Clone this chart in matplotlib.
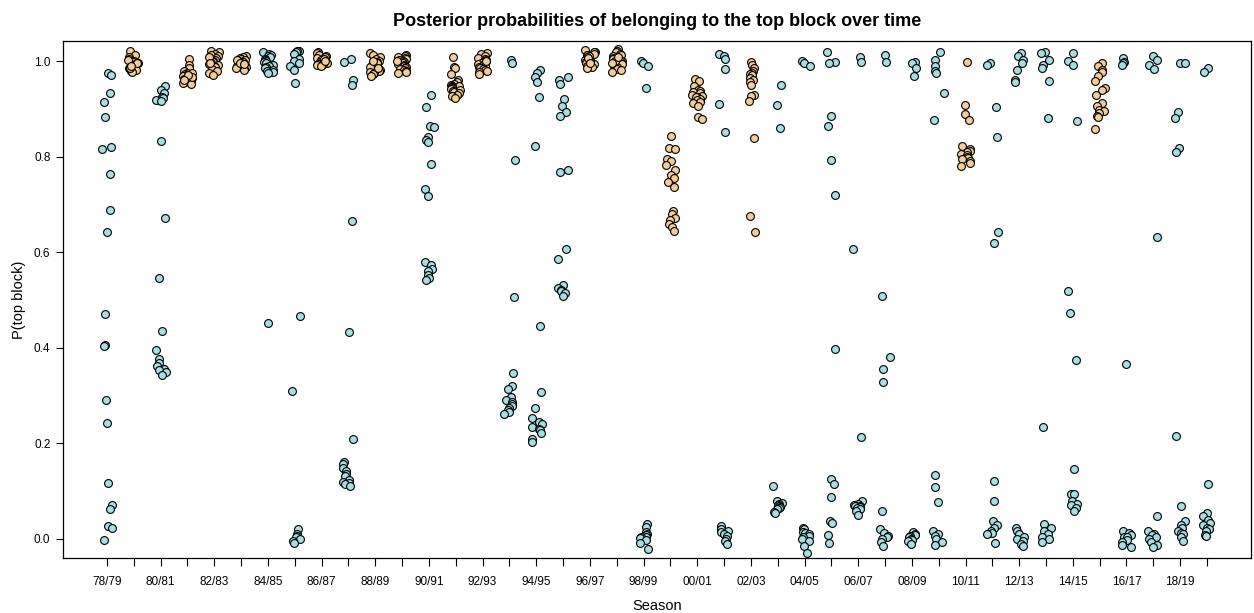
#!/usr/bin/env python3
# -*- coding: utf-8 -*-
"""
Strip plot of posterior probabilities of belonging to the top block, per season.
"""

import numpy as np
import matplotlib
matplotlib.use('Agg')
import matplotlib.pyplot as plt

# Season labels (78/79 .. 19/20)
seasons = ['78/79', '79/80', '80/81', '81/82', '82/83', '83/84', '84/85', '85/86',
           '86/87', '87/88', '88/89', '89/90', '90/91', '91/92', '92/93', '93/94',
           '94/95', '95/96', '96/97', '97/98', '98/99', '99/00', '00/01', '01/02',
           '02/03', '03/04', '04/05', '05/06', '06/07', '07/08', '08/09', '09/10',
           '10/11', '11/12', '12/13', '13/14', '14/15', '15/16', '16/17', '17/18',
           '18/19', '19/20']

# Seasons drawn in tan (all others light blue)
tan_seasons = ['79/80', '81/82', '82/83', '83/84', '86/87', '88/89', '89/90', '91/92',
               '92/93', '96/97', '97/98', '99/00', '00/01', '02/03', '10/11', '15/16']

# Posterior probabilities, one list per season
p_7879 = [0.975, 0.970, 0.934, 0.914, 0.883, 0.820, 0.816, 0.764, 0.689, 0.642, 0.470,
          0.405, 0.403, 0.290, 0.243, 0.116, 0.070, 0.062, 0.027, 0.023, -0.002]
p_7980 = [1.022, 1.012, 1.008, 1.004, 1.000, 0.998, 0.996, 0.994, 0.992, 0.990, 0.988,
          0.986, 0.984, 0.982, 0.980, 0.978, 1.002, 0.995, 0.985, 0.990]
p_8081 = [0.948, 0.939, 0.933, 0.925, 0.923, 0.919, 0.917, 0.832, 0.671, 0.546, 0.436,
          0.395, 0.377, 0.368, 0.361, 0.355, 0.354, 0.349, 0.344]
p_8182 = [1.005, 0.992, 0.985, 0.980, 0.976, 0.972, 0.970, 0.968, 0.965, 0.963, 0.962,
          0.960, 0.958, 0.956, 0.955, 0.953, 0.975, 0.966, 0.970, 0.960]
p_8283 = [1.022, 1.020, 1.015, 1.012, 1.010, 1.006, 1.003, 1.000, 0.998, 0.996, 0.994,
          0.992, 0.990, 0.987, 0.984, 0.980, 0.975, 0.970, 1.008, 0.995]
p_8384 = [1.010, 1.008, 1.006, 1.004, 1.002, 1.000, 0.999, 0.998, 0.996, 0.995, 0.994,
          0.992, 0.990, 0.988, 0.986, 0.984, 0.982, 1.003, 0.997, 0.993]
p_8485 = [1.020, 1.015, 1.012, 1.010, 1.008, 1.005, 1.002, 1.000, 0.998, 0.995, 0.992,
          0.990, 0.988, 0.985, 0.982, 0.980, 0.977, 0.975, 0.452]
p_8586 = [1.022, 1.021, 1.019, 1.015, 1.005, 1.000, 0.995, 0.990, 0.982, 0.955, 0.467,
          0.309, 0.020, 0.010, 0.007, 0.003, 0.000, -0.004, -0.008]
p_8687 = [1.020, 1.016, 1.013, 1.010, 1.008, 1.006, 1.004, 1.002, 1.000, 0.999, 0.998,
          0.997, 0.996, 0.995, 0.994, 0.993, 0.992, 0.990, 1.005, 1.001]
p_8788 = [1.004, 0.998, 0.960, 0.950, 0.665, 0.432, 0.209, 0.161, 0.156, 0.149, 0.142,
          0.135, 0.131, 0.124, 0.120, 0.117, 0.114, 0.110]
p_8889 = [1.016, 1.012, 1.008, 1.004, 1.000, 0.998, 0.995, 0.992, 0.990, 0.988, 0.985,
          0.982, 0.980, 0.978, 0.975, 0.972, 0.969, 0.995, 0.985, 1.000]
p_8990 = [1.012, 1.010, 1.008, 1.006, 1.004, 1.002, 1.000, 0.998, 0.996, 0.994, 0.992,
          0.990, 0.988, 0.986, 0.984, 0.982, 0.980, 0.977, 0.975, 1.000]
p_9091 = [0.928, 0.904, 0.865, 0.863, 0.841, 0.835, 0.831, 0.784, 0.733, 0.718, 0.579,
          0.574, 0.565, 0.560, 0.552, 0.546, 0.542]
p_9192 = [1.008, 0.987, 0.985, 0.974, 0.960, 0.957, 0.953, 0.950, 0.948, 0.947, 0.945,
          0.943, 0.941, 0.940, 0.938, 0.936, 0.933, 0.930, 0.927, 0.922]
p_9293 = [1.017, 1.014, 1.010, 1.007, 1.004, 1.002, 1.000, 0.998, 0.996, 0.994, 0.992,
          0.990, 0.988, 0.986, 0.984, 0.982, 0.980, 0.977, 0.974, 1.000]
p_9394 = [1.002, 0.995, 0.794, 0.507, 0.348, 0.319, 0.313, 0.298, 0.290, 0.287, 0.282,
          0.278, 0.273, 0.270, 0.265, 0.261]
p_9495 = [0.981, 0.976, 0.967, 0.957, 0.925, 0.822, 0.446, 0.307, 0.273, 0.252, 0.245,
          0.240, 0.235, 0.230, 0.227, 0.222, 0.210, 0.203]
p_9596 = [0.967, 0.960, 0.952, 0.921, 0.906, 0.894, 0.886, 0.772, 0.768, 0.606, 0.585,
          0.531, 0.526, 0.521, 0.518, 0.514, 0.508]
p_9697 = [1.023, 1.020, 1.018, 1.015, 1.012, 1.010, 1.008, 1.005, 1.003, 1.000, 0.998,
          0.996, 0.994, 0.992, 0.990, 0.988, 0.986, 1.000, 1.006, 0.995]
p_9798 = [1.026, 1.022, 1.018, 1.015, 1.012, 1.010, 1.007, 1.004, 1.001, 0.999, 0.996,
          0.993, 0.990, 0.987, 0.984, 0.981, 0.978, 1.000, 1.008, 0.995]
p_9899 = [1.000, 0.995, 0.990, 0.943, 0.031, 0.024, 0.015, 0.010, 0.008, 0.005, 0.004,
          0.001, -0.002, -0.008, -0.022]
p_9900 = [0.843, 0.819, 0.817, 0.796, 0.791, 0.782, 0.771, 0.762, 0.755, 0.747, 0.736,
          0.686, 0.680, 0.672, 0.668, 0.660, 0.652, 0.644]
p_0001 = [0.963, 0.959, 0.947, 0.940, 0.937, 0.935, 0.933, 0.930, 0.927, 0.925, 0.924,
          0.921, 0.918, 0.915, 0.912, 0.905, 0.884, 0.879]
p_0102 = [1.015, 1.010, 1.004, 0.984, 0.910, 0.851, 0.027, 0.020, 0.016, 0.014, 0.010,
          0.006, 0.000, -0.004, -0.010]
p_0203 = [0.998, 0.992, 0.986, 0.980, 0.976, 0.972, 0.970, 0.964, 0.960, 0.957, 0.950,
          0.928, 0.926, 0.916, 0.840, 0.675, 0.642]
p_0304 = [0.949, 0.909, 0.860, 0.110, 0.079, 0.076, 0.072, 0.070, 0.069, 0.066, 0.064,
          0.062, 0.057, 0.055]
p_0405 = [1.001, 0.996, 0.989, 0.023, 0.020, 0.015, 0.012, 0.010, 0.007, 0.003, 0.000,
          -0.004, -0.015, -0.029]
p_0506 = [1.019, 0.999, 0.996, 0.886, 0.865, 0.794, 0.720, 0.398, 0.126, 0.114, 0.087,
          0.038, 0.033, 0.009, -0.008]
p_0607 = [1.008, 0.998, 0.607, 0.213, 0.079, 0.072, 0.070, 0.069, 0.068, 0.066, 0.064,
          0.062, 0.058, 0.051]
p_0708 = [1.013, 0.999, 0.509, 0.380, 0.356, 0.328, 0.059, 0.020, 0.013, 0.006, 0.003,
          0.000, -0.007, -0.015]
p_0809 = [0.999, 0.996, 0.985, 0.968, 0.015, 0.010, 0.008, 0.006, 0.003, 0.000, -0.002,
          -0.005, -0.010]
p_0910 = [1.020, 1.003, 0.989, 0.980, 0.976, 0.933, 0.877, 0.133, 0.108, 0.077, 0.017,
          0.010, 0.007, 0.000, -0.007, -0.013]
p_1011 = [0.998, 0.909, 0.889, 0.876, 0.823, 0.816, 0.812, 0.809, 0.806, 0.804, 0.800,
          0.797, 0.795, 0.790, 0.786, 0.781]
p_1112 = [0.996, 0.992, 0.904, 0.841, 0.643, 0.619, 0.121, 0.079, 0.037, 0.030, 0.023,
          0.017, 0.013, 0.010, -0.008]
p_1213 = [1.017, 1.010, 1.003, 0.996, 0.982, 0.961, 0.957, 0.022, 0.016, 0.010, 0.005,
          0.000, -0.005, -0.010, -0.015]
p_1314 = [1.020, 1.017, 1.003, 0.992, 0.985, 0.959, 0.881, 0.234, 0.031, 0.023, 0.016,
          0.010, 0.003, 0.000, -0.006]
p_1415 = [1.017, 1.001, 0.992, 0.875, 0.518, 0.472, 0.374, 0.147, 0.094, 0.094, 0.079,
          0.072, 0.070, 0.065, 0.058]
p_1516 = [0.996, 0.989, 0.982, 0.978, 0.968, 0.959, 0.943, 0.940, 0.928, 0.912, 0.905,
          0.898, 0.895, 0.891, 0.886, 0.884, 0.858]
p_1617 = [1.006, 0.999, 0.996, 0.992, 0.365, 0.017, 0.013, 0.008, 0.005, 0.003, -0.002,
          -0.007, -0.012, -0.017]
p_1718 = [1.010, 1.003, 0.992, 0.984, 0.632, 0.047, 0.017, 0.010, 0.008, 0.003, 0.000,
          -0.007, -0.013, -0.017]
p_1819 = [0.996, 0.996, 0.893, 0.881, 0.818, 0.810, 0.215, 0.068, 0.038, 0.030, 0.023,
          0.017, 0.013, 0.010, 0.003, -0.004]
p_1920 = [0.985, 0.978, 0.114, 0.054, 0.047, 0.040, 0.033, 0.030, 0.023, 0.020, 0.016,
          0.009, 0.006]

season_probs = [p_7879, p_7980, p_8081, p_8182, p_8283, p_8384, p_8485, p_8586,
                p_8687, p_8788, p_8889, p_8990, p_9091, p_9192, p_9293, p_9394,
                p_9495, p_9596, p_9697, p_9798, p_9899, p_9900, p_0001, p_0102,
                p_0203, p_0304, p_0405, p_0506, p_0607, p_0708, p_0809, p_0910,
                p_1011, p_1112, p_1213, p_1314, p_1415, p_1516, p_1617, p_1718,
                p_1819, p_1920]

BLUE = '#A8DDE2'
TAN = '#F4CC9A'


def main():
    plt.rcParams['font.family'] = ['Liberation Sans', 'DejaVu Sans']
    fig = plt.figure(figsize=(12.54, 6.13), dpi=100)
    ax = fig.add_axes([0.0502, 0.0897, 0.9474, 0.8434])

    # horizontal jitter like R's jitter()
    rng = np.random.default_rng(7)
    for i, (label, vals) in enumerate(zip(seasons, season_probs)):
        colour = TAN if label in tan_seasons else BLUE
        x = i + rng.uniform(-0.2, 0.2, len(vals))
        ax.scatter(x, vals, s=32, facecolor=colour, edgecolor='black',
                   linewidth=0.8, zorder=3)

    ax.set_xlim(-1.64, len(seasons) + 0.64)
    ax.set_ylim(-0.040, 1.042)

    ax.set_xticks(range(len(seasons)))
    ax.set_xticklabels([s if i % 2 == 0 else '' for i, s in enumerate(seasons)])
    ax.set_yticks([0.0, 0.2, 0.4, 0.6, 0.8, 1.0])
    ax.set_yticklabels(['0.0', '0.2', '0.4', '0.6', '0.8', '1.0'])
    ax.tick_params(axis='x', direction='out', length=6, width=0.8,
                   labelsize=8.5, pad=7)
    ax.tick_params(axis='y', direction='out', length=5, width=0.8,
                   labelsize=8.5, pad=4)

    for spine in ax.spines.values():
        spine.set_linewidth(0.9)

    ax.set_xlabel('Season', fontsize=10.5, labelpad=8)
    ax.set_ylabel('P(top block)', fontsize=10.5, labelpad=6)
    ax.set_title('Posterior probabilities of belonging to the top block over time',
                 fontsize=13, fontweight='bold', pad=11)

    fig.savefig('out.png', dpi=100)
    plt.close(fig)


if __name__ == "__main__":
    main()
